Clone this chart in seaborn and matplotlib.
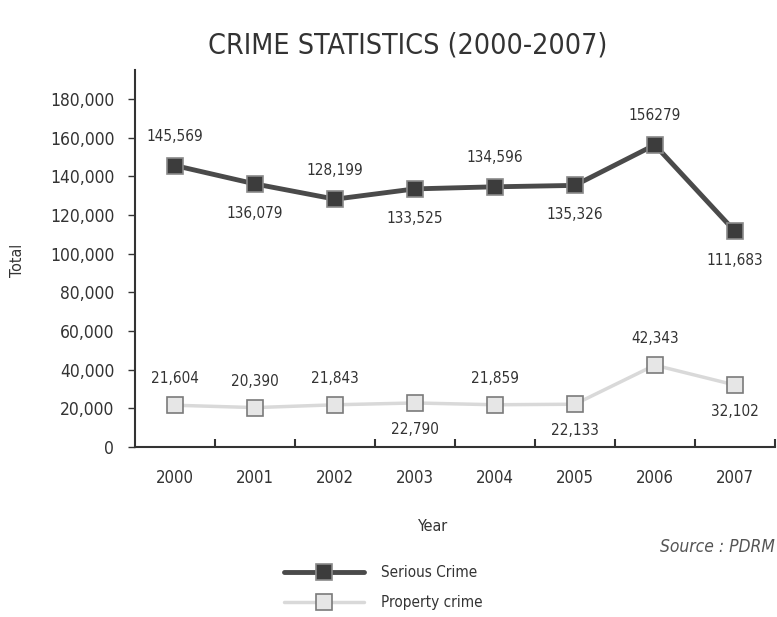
import numpy as np
import pandas as pd
import matplotlib.pyplot as plt
import matplotlib.ticker as mticker
import seaborn as sns

# Data
years = [2000, 2001, 2002, 2003, 2004, 2005, 2006, 2007]
serious_crime = [145569, 136079, 128199, 133525, 134596, 135326, 156279, 111683]
property_crime = [21604, 20390, 21843, 22790, 21859, 22133, 42343, 32102]
serious_labels = ["145,569", "136,079", "128,199", "133,525", "134,596", "135,326", "156279", "111,683"]
property_labels = ["21,604", "20,390", "21,843", "22,790", "21,859", "22,133", "42,343", "32,102"]
# label placement: +1 above the marker, -1 below
serious_side = [1, -1, 1, -1, 1, -1, 1, -1]
property_side = [1, 1, 1, -1, 1, -1, 1, -1]

sns.set_style("ticks")
plt.rcParams['font.family'] = ['DejaVu Sans']
plt.rcParams['font.stretch'] = 'condensed'

df = pd.DataFrame({"Year": years, "Serious Crime": serious_crime, "Property crime": property_crime})

fig = plt.figure(figsize=(7.77, 6.17), dpi=100)
ax = fig.add_axes([0.174, 0.2755, 0.823, 0.611])

sns.lineplot(data=df, x="Year", y="Serious Crime", ax=ax, color="#4a4a4a", lw=3.5,
             marker="s", markersize=11, markerfacecolor="#3c3c3c",
             markeredgecolor="#8a8a8a", markeredgewidth=1.2, label="Serious Crime")
sns.lineplot(data=df, x="Year", y="Property crime", ax=ax, color="#d9d9d9", lw=2.5,
             marker="s", markersize=11, markerfacecolor="#e6e6e6",
             markeredgecolor="#7a7a7a", markeredgewidth=1.2, label="Property crime")

for x, y, t, s in zip(years, serious_crime, serious_labels, serious_side):
    ax.annotate(t, (x, y), xytext=(0, 21 * s), textcoords="offset points",
                ha="center", va="center", fontsize=11, color="#333333")
for x, y, t, s in zip(years, property_crime, property_labels, property_side):
    ax.annotate(t, (x, y), xytext=(0, 19 * s), textcoords="offset points",
                ha="center", va="center", fontsize=11, color="#333333")

ax.set_xlim(1999.5, 2007.5)
ax.set_ylim(0, 195000)
ax.set_xticks(years)
ax.set_xticks(np.array(years) + 0.5, minor=True)
ax.tick_params(axis="x", which="major", length=0, pad=16, labelsize=12, colors="#333333")
ax.tick_params(axis="x", which="minor", length=6, width=1.5, direction="in", color="#333333")
ax.set_yticks(range(0, 180001, 20000))
ax.yaxis.set_major_formatter(mticker.FuncFormatter(lambda v, p: f"{int(v):,}"))
ax.tick_params(axis="y", length=5, width=1, labelsize=12.5, colors="#333333", pad=10)
sns.despine(ax=ax)
for side in ["left", "bottom"]:
    ax.spines[side].set_linewidth(1.5)
    ax.spines[side].set_color("#333333")

ax.set_xlabel("Year", fontsize=11.5, color="#333333")
ax.xaxis.set_label_coords(0.466, -0.19)
ax.set_ylabel("")
fig.text(0.023, 0.578, "Total", rotation=90, ha="center", va="center", fontsize=11.5, color="#333333")
fig.text(0.525, 0.927, "CRIME STATISTICS (2000-2007)", ha="center", va="center",
         fontsize=20.5, color="#333333")
fig.text(0.849, 0.113, "Source : PDRM", ha="left", va="center", fontsize=12.5,
         style="italic", color="#555555")

ax.legend(loc="upper left", bbox_to_anchor=(0.358, 0.094), bbox_transform=fig.transFigure,
          frameon=False, fontsize=11, handlelength=5.2, handletextpad=1.1, labelspacing=1.0,
          borderaxespad=0, labelcolor="#333333")

fig.savefig("out.png", dpi=100)
